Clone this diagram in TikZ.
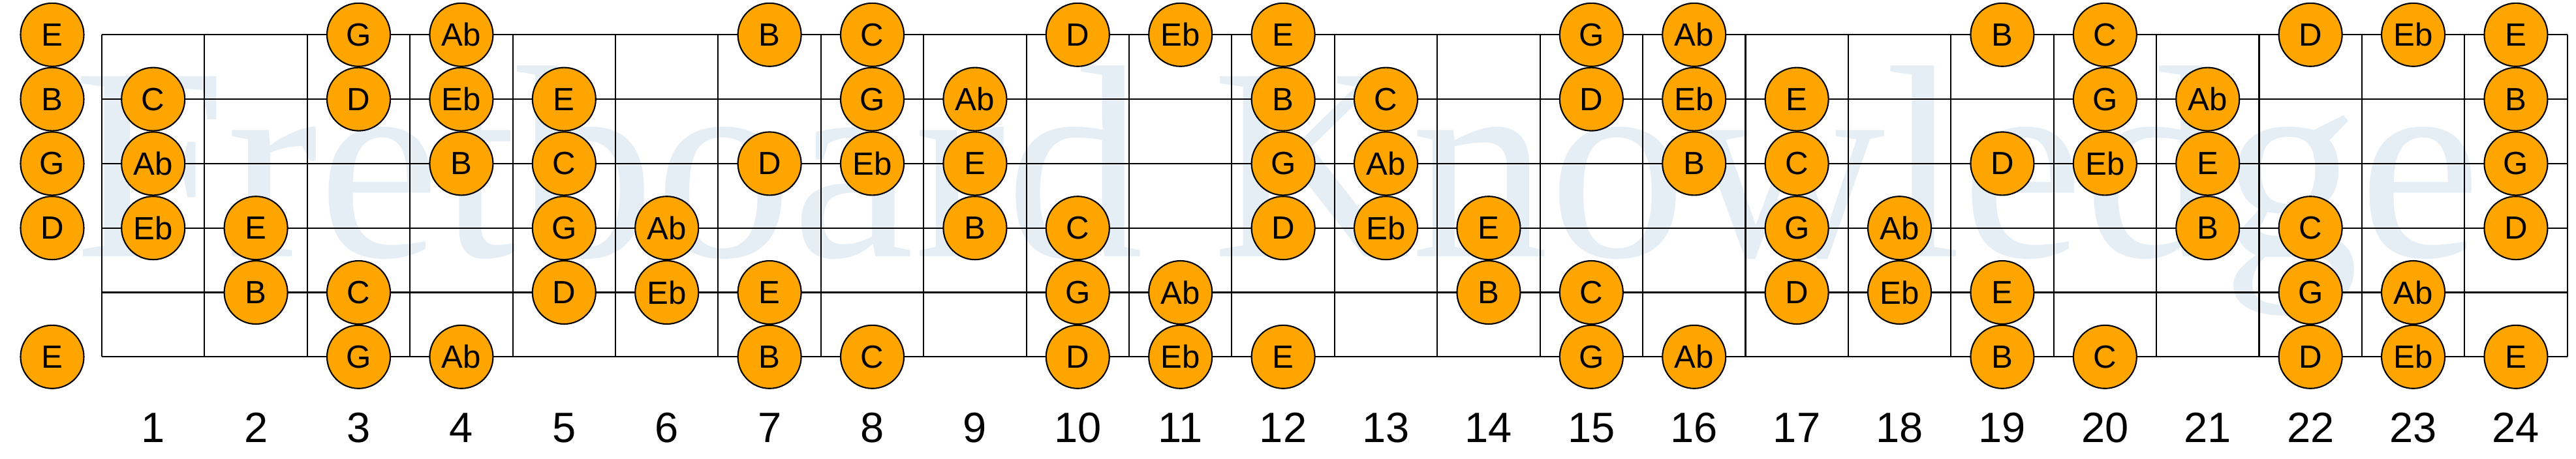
\documentclass[tikz,border=0pt]{standalone}
\usepackage{fontspec}
\setmainfont{Liberation Sans}
\newfontfamily\markfont{Liberation Serif}
\usepackage{xcolor}
\usepackage{tikz}
\usetikzlibrary{positioning}

\definecolor{noteorange}{RGB}{255,165,0}
\definecolor{markblue}{RGB}{229,237,245}

\begin{document}
\begin{tikzpicture}[
    note/.style={circle, draw, line width=0.6pt, fill=noteorange, minimum size=0.97cm, inner sep=0pt, font=\fontsize{14}{14}\selectfont},
    fretnum/.style={inner sep=0pt, font=\fontsize{18.5}{18.5}\selectfont},
    wire/.style={line width=0.6pt}]

    \useasboundingbox (0,0) rectangle (39.47,7.03);

    % watermark behind the board
    \node[anchor=base west, inner sep=0pt, text=markblue, font=\markfont\fontsize{120}{120}\selectfont] (mark) at (1.12,3.10) {Fretboard Knowledge};

    % strings
    \foreach \s in {1,...,6} {
        \coordinate (s\s) at (1.56,{6.497-(\s-1)*0.988});
        \coordinate (e\s) at (39.34,{6.497-(\s-1)*0.988});
        \draw[wire] (s\s) -- (e\s);
    }
    % frets
    \foreach \f in {0,...,24} {
        \coordinate (t\f) at ({1.56+\f*1.574},6.497);
        \coordinate (b\f) at ({1.56+\f*1.574},1.557);
        \draw[wire] (t\f) -- (b\f);
    }

    % open strings
    \foreach \s/\n in {1/E,2/B,3/G,4/D,6/E}
        \node[note] (n0s\s) at (0.80,{6.497-(\s-1)*0.988}) {\n};

    % frets 1-12, same again for 13-24
    \foreach \o in {0,12} {
        \foreach \f/\s/\n in {1/2/C,1/3/Ab,1/4/Eb, 2/4/E,2/5/B, 3/1/G,3/2/D,3/5/C,3/6/G,
                4/1/Ab,4/2/Eb,4/3/B,4/6/Ab, 5/2/E,5/3/C,5/4/G,5/5/D, 6/4/Ab,6/5/Eb,
                7/1/B,7/3/D,7/5/E,7/6/B, 8/1/C,8/2/G,8/3/Eb,8/6/C, 9/2/Ab,9/3/E,9/4/B,
                10/1/D,10/4/C,10/5/G,10/6/D, 11/1/Eb,11/5/Ab,11/6/Eb,
                12/1/E,12/2/B,12/3/G,12/4/D,12/6/E} {
            \pgfmathtruncatemacro\fr{\f+\o}
            \node[note] (n\fr s\s) at ({1.56+(\fr-0.5)*1.574},{6.497-(\s-1)*0.988}) {\n};
        }
    }

    % fret numbers
    \foreach \f in {1,...,24}
        \node[fretnum] (num\f) at ({1.56+(\f-0.5)*1.574},0.47) {\f};
\end{tikzpicture}
\end{document}
